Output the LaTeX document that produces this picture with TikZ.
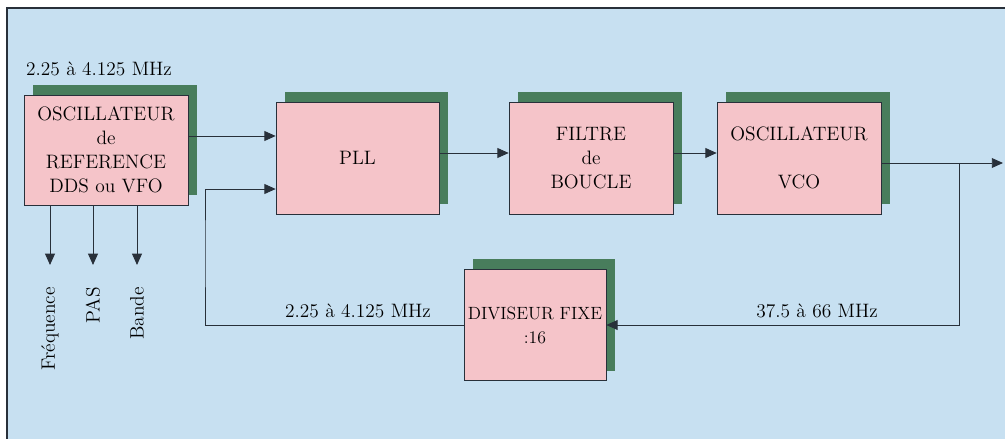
\documentclass[tikz,border=0pt]{standalone}
\usetikzlibrary{arrows.meta,shadows}

\definecolor{fond}{RGB}{199,224,241}
\definecolor{rose}{RGB}{245,196,201}
\definecolor{vert}{RGB}{72,125,92}
\definecolor{trait}{RGB}{40,48,58}

\begin{document}
\begin{tikzpicture}[x=0.025cm, y=-0.025cm,
  font=\fontsize{13.8}{17}\selectfont,
  bloc/.style={draw=trait, fill=rose, align=center, inner sep=2pt,
    drop shadow={shadow xshift=0.225cm, shadow yshift=0.25cm, fill=vert, opacity=1}},
  fleche/.style={draw=trait, line width=0.7pt, -{Triangle[length=8pt,width=7pt]}}]

\useasboundingbox (0,0) rectangle (1005,439);
\fill[fond] (7,8) rectangle (1005,439);
\draw[trait, line width=2pt] (7,439) -- (7,8) -- (1005,8);

\node[name=osc, bloc, minimum width=4.1cm, minimum height=2.75cm] at (106,150) {OSCILLATEUR\\de\\REFERENCE\\DDS ou VFO};
\node[name=pll, bloc, minimum width=4.075cm, minimum height=2.8cm] at (357.5,158) {PLL};
\node[name=filtre, bloc, minimum width=4.1cm, minimum height=2.8cm] at (591,158) {FILTRE\\de\\BOUCLE};
\node[name=vco, bloc, minimum width=4.1cm, minimum height=2.8cm] at (799,158) {OSCILLATEUR\\ \\VCO};
\node[name=div, bloc, minimum width=3.55cm, minimum height=2.775cm,
  font=\fontsize{12.6}{17}\selectfont] at (535,325) {DIVISEUR FIXE\\:16};

\node[name=fref] at (99,69) {2.25 à 4.125 MHz};
\node[name=fdiv] at (358,311) {2.25 à 4.125 MHz};
\node[name=fvco] at (817,311) {37.5 à 66 MHz};

\coordinate (out) at (1003,163);
\coordinate (tap) at (959,163);
\coordinate (fb) at (205,250);

% chaine principale
\draw[fleche] ([yshift=0.35cm]osc.east) -- ([yshift=0.35cm]osc.east -| pll.west);
\draw[fleche] ([yshift=0.125cm]pll.east) -- ([yshift=0.125cm]pll.east -| filtre.west);
\draw[fleche] ([yshift=0.125cm]filtre.east) -- ([yshift=0.125cm]filtre.east -| vco.west);
\draw[fleche] (vco.east |- out) -- (out);

% boucle de retour
\draw[fleche] (tap) |- (div.east);
\draw[fleche] (div.west) -| (fb) |- ([yshift=-0.775cm]pll.west);

% commandes
\foreach \x/\lab [count=\i] in {50/Fréquence, 93/PAS, 137/Bande} {
  \node[name=cmd\i, rotate=90, anchor=east, inner sep=0pt] at (\x,287) {\lab};
  \draw[fleche, shorten >=0.55cm] (osc.south -| cmd\i.east) -- (cmd\i.east);
}

\end{tikzpicture}
\end{document}
